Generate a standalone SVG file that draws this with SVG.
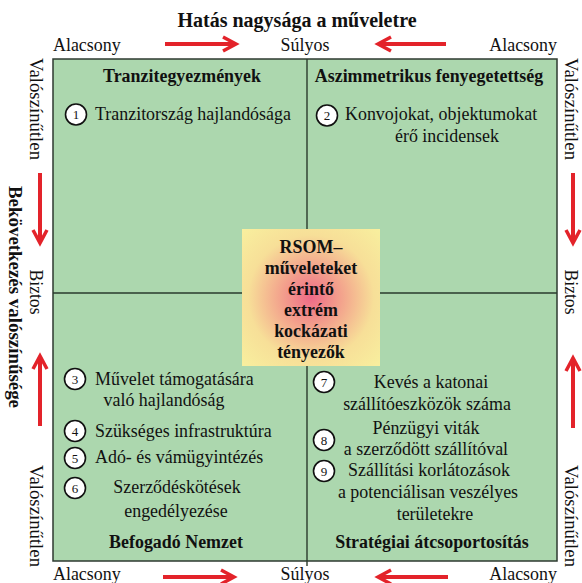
<svg xmlns="http://www.w3.org/2000/svg" width="582" height="583" viewBox="0 0 582 583">
<defs>
<radialGradient id="glow" cx="50%" cy="50%" r="70%">
<stop offset="0" stop-color="#ee6a88"/>
<stop offset="0.3" stop-color="#f3a08c"/>
<stop offset="0.65" stop-color="#f7df98"/>
<stop offset="1" stop-color="#f8ef9e"/>
</radialGradient>
<style>
text{font-family:"Liberation Serif","Times New Roman",serif;fill:#111;}
.t{font-size:19.5px;}
.v{font-size:18px;}
.b{font-size:19.5px;font-weight:bold;}
.m{text-anchor:middle;}
.n{font-size:13px;text-anchor:middle;}
.c{fill:#fff;stroke:#111;stroke-width:1.6;}
.ar{fill:none;stroke:#e3232a;stroke-width:4;stroke-linecap:butt;}
.ah{fill:none;stroke:#e3232a;stroke-width:3.5;stroke-linejoin:miter;}
</style>
</defs>
<rect width="582" height="583" fill="#fff"/>

<g id="axis-top">
<text class="b m" x="297" y="27" style="font-size:20px">Hatás nagysága a műveletre</text>
<text class="t" transform="scale(0.92,1)" x="57.61" y="51">Alacsony</text>
<text class="t m" transform="scale(0.92,1)" x="331.52" y="51">Súlyos</text>
<text class="t" transform="scale(0.92,1)" x="605.43" y="51" text-anchor="end">Alacsony</text>
</g>
<g id="axis-bottom">
<text class="t" transform="scale(0.92,1)" x="57.61" y="580">Alacsony</text>
<text class="t m" transform="scale(0.92,1)" x="331.52" y="580">Súlyos</text>
<text class="t" transform="scale(0.92,1)" x="605.43" y="580" text-anchor="end">Alacsony</text>
</g>
<g id="axis-left">
<text class="v m" transform="translate(30,109) rotate(90)" textLength="102" lengthAdjust="spacingAndGlyphs">Valószínűtlen</text>
<text class="v m" transform="translate(30,292) rotate(90)" textLength="45" lengthAdjust="spacingAndGlyphs">Biztos</text>
<text class="v m" transform="translate(30,516) rotate(90)" textLength="102" lengthAdjust="spacingAndGlyphs">Valószínűtlen</text>
<text class="b m" transform="translate(9,297) rotate(90)" textLength="222" lengthAdjust="spacingAndGlyphs">Bekövetkezés valószínűsége</text>
</g>
<g id="axis-right">
<text class="v m" transform="translate(565,109) rotate(90)" textLength="102" lengthAdjust="spacingAndGlyphs">Valószínűtlen</text>
<text class="v m" transform="translate(565,292) rotate(90)" textLength="45" lengthAdjust="spacingAndGlyphs">Biztos</text>
<text class="v m" transform="translate(565,516) rotate(90)" textLength="102" lengthAdjust="spacingAndGlyphs">Valószínűtlen</text>
</g>

<g id="matrix">
<rect x="53" y="59" width="504" height="502" fill="#acd7ae" stroke="#2e3a30" stroke-width="1.5"/>
<line x1="307" y1="59" x2="307" y2="566" stroke="#2a3a2c" stroke-width="1.4"/>
<line x1="53" y1="293" x2="557" y2="293" stroke="#2a3a2c" stroke-width="1.4"/>
</g>

<g id="q-tranzit">
<text class="b m" transform="scale(0.92,1)" x="197.83" y="82">Tranzitegyezmények</text>
<circle class="c" cx="76" cy="114.5" r="10.5"/><text class="n" x="76" y="119">1</text>
<text class="t" transform="scale(0.92,1)" x="103.26" y="120">Tranzitország hajlandósága</text>
</g>

<g id="q-aszimm">
<text class="b m" transform="scale(0.92,1)" x="466.30" y="82">Aszimmetrikus fenyegetettség</text>
<circle class="c" cx="327" cy="115.5" r="10.5"/><text class="n" x="327" y="120">2</text>
<text class="t" transform="scale(0.92,1)" x="375.0" y="120">Konvojokat, objektumokat</text>
<text class="t m" transform="scale(0.92,1)" x="485.87" y="142">érő incidensek</text>
</g>

<g id="q-befogado">
<circle class="c" cx="75" cy="379" r="10.5"/><text class="n" x="75" y="383.5">3</text>
<text class="t" transform="scale(0.92,1)" x="103.26" y="385">Művelet támogatására</text>
<text class="t m" transform="scale(0.92,1)" x="178.26" y="406">való hajlandóság</text>
<circle class="c" cx="75" cy="431" r="10.5"/><text class="n" x="75" y="435.5">4</text>
<text class="t" transform="scale(0.92,1)" x="103.26" y="437">Szükséges infrastruktúra</text>
<circle class="c" cx="75" cy="458" r="10.5"/><text class="n" x="75" y="462.5">5</text>
<text class="t" transform="scale(0.92,1)" x="103.26" y="463">Adó- és vámügyintézés</text>
<circle class="c" cx="75" cy="488" r="10.5"/><text class="n" x="75" y="492.5">6</text>
<text class="t m" transform="scale(0.92,1)" x="192.39" y="493">Szerződéskötések</text>
<text class="t m" transform="scale(0.92,1)" x="191.30" y="517">engedélyezése</text>
<text class="b m" transform="scale(0.92,1)" x="191.30" y="548">Befogadó Nemzet</text>
</g>

<g id="q-strategiai">
<circle class="c" cx="324" cy="382" r="10.5"/><text class="n" x="324" y="386.5">7</text>
<text class="t m" transform="scale(0.92,1)" x="468.48" y="388">Kevés a katonai</text>
<text class="t m" transform="scale(0.92,1)" x="464.13" y="410">szállítóeszközök száma</text>
<circle class="c" cx="324" cy="440" r="10.5"/><text class="n" x="324" y="444.5">8</text>
<text class="t m" transform="scale(0.92,1)" x="463.04" y="434">Pénzügyi viták</text>
<text class="t m" transform="scale(0.92,1)" x="463.04" y="455">a szerződött szállítóval</text>
<circle class="c" cx="324" cy="471" r="10.5"/><text class="n" x="324" y="475.5">9</text>
<text class="t m" transform="scale(0.92,1)" x="466.30" y="476">Szállítási korlátozások</text>
<text class="t m" transform="scale(0.92,1)" x="465.22" y="498">a potenciálisan veszélyes</text>
<text class="t m" transform="scale(0.92,1)" x="472.83" y="520">területekre</text>
<text class="b m" transform="scale(0.92,1)" x="469.57" y="548">Stratégiai átcsoportosítás</text>
</g>

<g id="center">
<rect x="242" y="229" width="138" height="137" fill="url(#glow)"/>
<text class="b m" transform="scale(0.92,1)" x="338.04" y="253">RSOM–</text>
<text class="b m" transform="scale(0.92,1)" x="338.04" y="274">műveleteket</text>
<text class="b m" transform="scale(0.92,1)" x="338.04" y="295">érintő</text>
<text class="b m" transform="scale(0.92,1)" x="338.04" y="316">extrém</text>
<text class="b m" transform="scale(0.92,1)" x="338.04" y="337">kockázati</text>
<text class="b m" transform="scale(0.92,1)" x="338.04" y="358">tényezők</text>
</g>

<g id="connectors">
<line class="ar" x1="165" y1="44" x2="236" y2="44"/><polyline class="ah" points="223,37 236,44 223,51"/>
<line class="ar" x1="378" y1="44" x2="446" y2="44"/><polyline class="ah" points="391,37 378,44 391,51"/>
<line class="ar" x1="163" y1="577" x2="234" y2="577"/><polyline class="ah" points="221,570 234,577 221,584"/>
<line class="ar" x1="378" y1="577" x2="448" y2="577"/><polyline class="ah" points="391,570 378,577 391,584"/>
<line class="ar" x1="40" y1="173" x2="40" y2="243"/><polyline class="ah" points="33,230 40,243 47,230"/>
<line class="ar" x1="40" y1="356" x2="40" y2="426"/><polyline class="ah" points="33,369 40,356 47,369"/>
<line class="ar" x1="573" y1="173" x2="573" y2="243"/><polyline class="ah" points="566,230 573,243 580,230"/>
<line class="ar" x1="573" y1="358" x2="573" y2="428"/><polyline class="ah" points="566,371 573,358 580,371"/>
</g>
</svg>
